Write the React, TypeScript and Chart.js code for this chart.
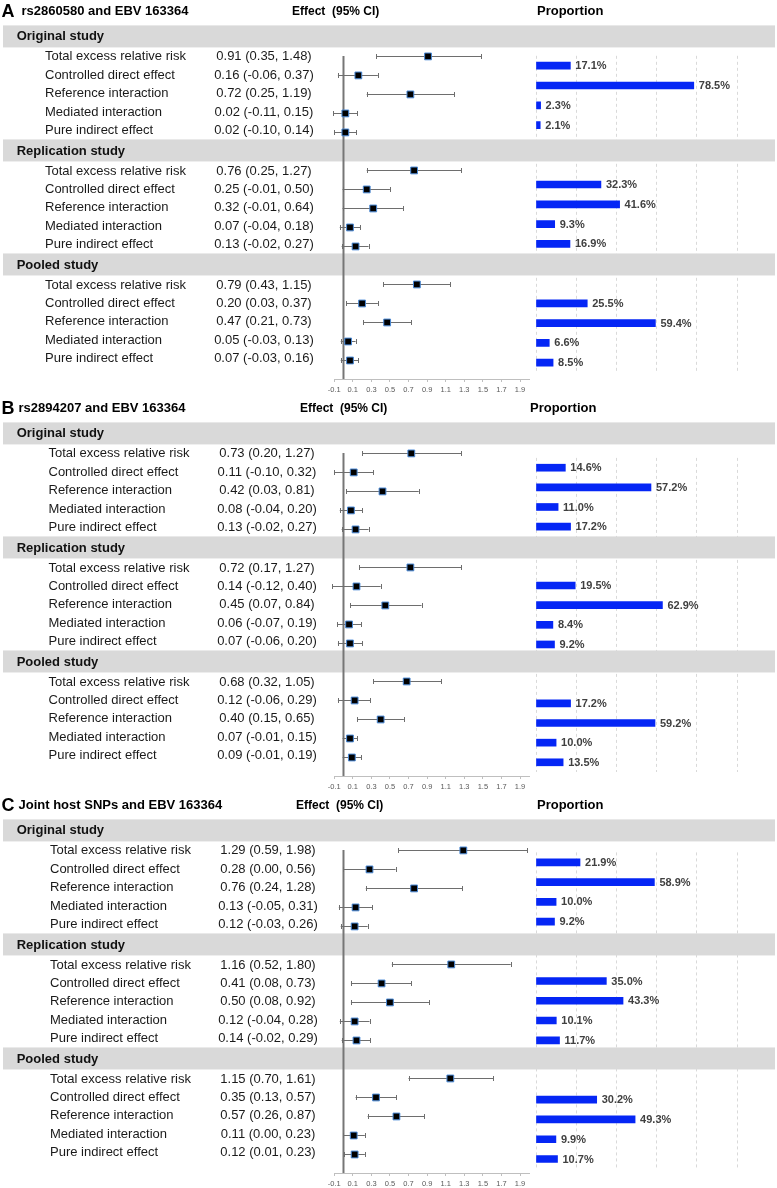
import React, { useEffect, useRef } from 'react';
import { Chart, registerables } from 'chart.js';

Chart.register(...registerables);

const FONT = '"Liberation Sans", Arial, Helvetica, sans-serif';

// ---------- text / categories ----------
const PANEL_LETTERS = ['A', 'B', 'C'];
const PANEL_TITLES = [
  'rs2860580 and EBV 163364',
  'rs2894207 and EBV 163364',
  'Joint host SNPs and EBV 163364',
];
const STUDIES = ['Original study', 'Replication study', 'Pooled study'];
const EFFECTS = [
  'Total excess relative risk',
  'Controlled direct effect',
  'Reference interaction',
  'Mediated interaction',
  'Pure indirect effect',
];
const FOREST_TICKS = [-0.1, 0.1, 0.3, 0.5, 0.7, 0.9, 1.1, 1.3, 1.5, 1.7, 1.9];
const PROPORTION_GRID = [0, 20, 40, 60, 80, 100];

// ---------- panel A ----------
const EST_A = [[0.91, 0.16, 0.72, 0.02, 0.02], [0.76, 0.25, 0.32, 0.07, 0.13], [0.79, 0.2, 0.47, 0.05, 0.07]];
const LO_A = [[0.35, -0.06, 0.25, -0.11, -0.1], [0.25, -0.01, -0.01, -0.04, -0.02], [0.43, 0.03, 0.21, -0.03, -0.03]];
const HI_A = [[1.48, 0.37, 1.19, 0.15, 0.14], [1.27, 0.5, 0.64, 0.18, 0.27], [1.15, 0.37, 0.73, 0.13, 0.16]];
const PROP_A = [[17.1, 78.5, 2.3, 2.1], [32.3, 41.6, 9.3, 16.9], [25.5, 59.4, 6.6, 8.5]];

// ---------- panel B ----------
const EST_B = [[0.73, 0.11, 0.42, 0.08, 0.13], [0.72, 0.14, 0.45, 0.06, 0.07], [0.68, 0.12, 0.4, 0.07, 0.09]];
const LO_B = [[0.2, -0.1, 0.03, -0.04, -0.02], [0.17, -0.12, 0.07, -0.07, -0.06], [0.32, -0.06, 0.15, -0.01, -0.01]];
const HI_B = [[1.27, 0.32, 0.81, 0.2, 0.27], [1.27, 0.4, 0.84, 0.19, 0.2], [1.05, 0.29, 0.65, 0.15, 0.19]];
const PROP_B = [[14.6, 57.2, 11.0, 17.2], [19.5, 62.9, 8.4, 9.2], [17.2, 59.2, 10.0, 13.5]];

// ---------- panel C ----------
const EST_C = [[1.29, 0.28, 0.76, 0.13, 0.12], [1.16, 0.41, 0.5, 0.12, 0.14], [1.15, 0.35, 0.57, 0.11, 0.12]];
const LO_C = [[0.59, 0.0, 0.24, -0.05, -0.03], [0.52, 0.08, 0.08, -0.04, -0.02], [0.7, 0.13, 0.26, 0.0, 0.01]];
const HI_C = [[1.98, 0.56, 1.28, 0.31, 0.26], [1.8, 0.73, 0.92, 0.28, 0.29], [1.61, 0.57, 0.87, 0.23, 0.23]];
const PROP_C = [[21.9, 58.9, 10.0, 9.2], [35.0, 43.3, 10.1, 11.7], [30.2, 49.3, 9.9, 10.7]];

const PANELS = [
  { est: EST_A, lo: LO_A, hi: HI_A, prop: PROP_A },
  { est: EST_B, lo: LO_B, hi: HI_B, prop: PROP_B },
  { est: EST_C, lo: LO_C, hi: HI_C, prop: PROP_C },
];

// ---------- layout (pixels) ----------
const W = 777;
const H = 394;
const PANEL_TOP = [0, 397, 794];
const SLOTS_PER_STUDY = 6;
const FOREST_LEFT = 334.2;
const FOREST_RIGHT = 529.3;
const AXIS_Y = 379;
const FOREST_SLOT0_Y = 32.1;
const FOREST_SLOT17_Y = 360.2;
const BAR_SLOT_Y = [[65.7, 362.7], [70.7, 365.3], [68.3, 365.0]];
const PROP_LEFT = 536;
const PROP_RIGHT = 737;
const TITLE_X = [21.5, 18.5, 18.5];
const EFFECT_HEAD_X = [292, 300, 296];
const PROP_HEAD_X = [537, 530, 537];
const LABEL_X = [45, 48.5, 50];
const VALUE_CX = [264, 267, 268];

const BAND_COLOR = '#d9d9d9';
const BAR_COLOR = '#0526f5';

const slotOf = (g: number, i: number) => g * SLOTS_PER_STUDY + 1 + i;
const fmt2 = (v: number) => v.toFixed(2);

function forestDecor(p: number) {
  const d = PANELS[p];
  return {
    id: 'forestDecor' + p,
    beforeDraw(chart: any) {
      const ctx = chart.ctx;
      const y = chart.scales.y;
      ctx.save();
      ctx.fillStyle = BAND_COLOR;
      STUDIES.forEach((_, g) => {
        const cy = y.getPixelForValue(g * SLOTS_PER_STUDY) - 1;
        ctx.fillRect(3, cy - 11, 772, 22);
      });
      ctx.restore();
    },
    beforeDatasetsDraw(chart: any) {
      const ctx = chart.ctx;
      const { x, y } = chart.scales;
      ctx.save();
      const x0 = x.getPixelForValue(0);
      ctx.strokeStyle = '#767676';
      ctx.lineWidth = 2;
      ctx.beginPath();
      ctx.moveTo(x0, y.getPixelForValue(1) - 0.5);
      ctx.lineTo(x0, chart.chartArea.bottom);
      ctx.stroke();
      ctx.strokeStyle = '#6e6e6e';
      ctx.lineWidth = 1;
      d.est.forEach((row, g) =>
        row.forEach((_, i) => {
          const yy = Math.round(y.getPixelForValue(slotOf(g, i))) + 0.5;
          const xl = x.getPixelForValue(d.lo[g][i]);
          const xh = x.getPixelForValue(d.hi[g][i]);
          ctx.beginPath();
          ctx.moveTo(xl, yy);
          ctx.lineTo(xh, yy);
          ctx.moveTo(Math.round(xl) + 0.5, yy - 2.5);
          ctx.lineTo(Math.round(xl) + 0.5, yy + 2.5);
          ctx.moveTo(Math.round(xh) + 0.5, yy - 2.5);
          ctx.lineTo(Math.round(xh) + 0.5, yy + 2.5);
          ctx.stroke();
        })
      );
      ctx.restore();
    },
    afterDraw(chart: any) {
      const ctx = chart.ctx;
      const y = chart.scales.y;
      ctx.save();
      ctx.fillStyle = '#000';
      ctx.textBaseline = 'alphabetic';
      ctx.textAlign = 'left';
      ctx.font = `bold 18px ${FONT}`;
      ctx.fillText(PANEL_LETTERS[p], 1.5, 16.5);
      ctx.font = `bold 13px ${FONT}`;
      ctx.fillText(PANEL_TITLES[p], TITLE_X[p], 14.5);
      ctx.fillText('Proportion', PROP_HEAD_X[p], 14.5);
      ctx.font = `bold 12px ${FONT}`;
      ctx.fillText('Effect  (95% CI)', EFFECT_HEAD_X[p], 14.5);

      ctx.textBaseline = 'middle';
      STUDIES.forEach((s, g) => {
        const cy = y.getPixelForValue(g * SLOTS_PER_STUDY) - 0.5;
        ctx.font = `bold 13px ${FONT}`;
        ctx.fillStyle = '#111';
        ctx.textAlign = 'left';
        ctx.fillText(s, 16.7, cy);
        EFFECTS.forEach((e, i) => {
          const ty = y.getPixelForValue(slotOf(g, i)) - 0.6 * i + 0.5;
          ctx.font = `13px ${FONT}`;
          ctx.fillStyle = '#1a1a1a';
          ctx.textAlign = 'left';
          ctx.fillText(e, LABEL_X[p], ty);
          ctx.textAlign = 'center';
          ctx.fillText(
            `${fmt2(d.est[g][i])} (${fmt2(d.lo[g][i])}, ${fmt2(d.hi[g][i])})`,
            VALUE_CX[p],
            ty
          );
        });
      });
      ctx.restore();
    },
  };
}

function propLabels(p: number, values: number[]) {
  return {
    id: 'propLabels' + p,
    afterDatasetsDraw(chart: any) {
      const ctx = chart.ctx;
      const meta = chart.getDatasetMeta(0);
      ctx.save();
      ctx.font = `bold 11px ${FONT}`;
      ctx.fillStyle = '#404040';
      ctx.textBaseline = 'middle';
      ctx.textAlign = 'left';
      meta.data.forEach((el: any, k: number) => {
        ctx.fillText(`${values[k].toFixed(1)}%`, el.x + 5, el.y + 0.5);
      });
      ctx.restore();
    },
  };
}

export default function App() {
  const propRefs = useRef<(HTMLCanvasElement | null)[]>([]);
  const forestRefs = useRef<(HTMLCanvasElement | null)[]>([]);

  useEffect(() => {
    const charts: Chart[] = [];
    PANELS.forEach((d, p) => {
      // ---- proportion bars ----
      const [b2, b17] = BAR_SLOT_Y[p];
      const bPitch = (b17 - b2) / 15;
      const barTop = b2 - 0.5 * bPitch;
      const barBottom = b17 + 0.5 * bPitch;
      const barPoints: { x: number; y: number }[] = [];
      const barValues: number[] = [];
      d.prop.forEach((row, g) =>
        row.forEach((v, j) => {
          barPoints.push({ x: v, y: slotOf(g, j + 1) });
          barValues.push(v);
        })
      );
      const pc = propRefs.current[p];
      if (pc) {
        charts.push(
          new Chart(pc, {
            type: 'bar',
            data: {
              datasets: [
                {
                  data: barPoints as any,
                  backgroundColor: BAR_COLOR,
                  borderWidth: 0,
                  barThickness: 7,
                } as any,
              ],
            },
            options: {
              indexAxis: 'y',
              responsive: false,
              animation: false,
              devicePixelRatio: 1,
              layout: {
                padding: { left: PROP_LEFT, right: W - PROP_RIGHT, top: barTop, bottom: H - barBottom },
              },
              plugins: { legend: { display: false }, tooltip: { enabled: false } },
              scales: {
                x: {
                  type: 'linear',
                  min: 0,
                  max: 100,
                  bounds: 'data',
                  offset: false,
                  afterBuildTicks: (s: any) => {
                    s.ticks = PROPORTION_GRID.map((v) => ({ value: v }));
                  },
                  afterFit: (s: any) => {
                    s.height = 0;
                  },
                  ticks: { display: false },
                  grid: { color: '#d9d9d9', lineWidth: 1, drawTicks: false, offset: false },
                  border: { display: false, dash: [3, 3] },
                } as any,
                y: {
                  type: 'linear',
                  reverse: true,
                  min: 1.5,
                  max: 17.5,
                  bounds: 'data',
                  offset: false,
                  display: false,
                  grid: { offset: false },
                } as any,
              },
            } as any,
            plugins: [propLabels(p, barValues)],
          })
        );
      }

      // ---- forest plot ----
      const fPitch = (FOREST_SLOT17_Y - FOREST_SLOT0_Y) / 17;
      const yMin = -FOREST_SLOT0_Y / fPitch;
      const yMax = yMin + AXIS_Y / fPitch;
      const points: { x: number; y: number }[] = [];
      d.est.forEach((row, g) => row.forEach((v, i) => points.push({ x: v, y: slotOf(g, i) })));
      const fc = forestRefs.current[p];
      if (fc) {
        charts.push(
          new Chart(fc, {
            type: 'scatter',
            data: {
              datasets: [
                {
                  data: points,
                  pointStyle: 'rect',
                  pointRadius: 4.8,
                  pointBackgroundColor: '#000',
                  pointBorderColor: '#4a8ad8',
                  pointBorderWidth: 1,
                  showLine: false,
                } as any,
              ],
            },
            options: {
              responsive: false,
              animation: false,
              devicePixelRatio: 1,
              layout: {
                padding: { left: FOREST_LEFT, right: W - FOREST_RIGHT, top: 0, bottom: H - AXIS_Y - 14 },
              },
              plugins: { legend: { display: false }, tooltip: { enabled: false } },
              scales: {
                x: {
                  type: 'linear',
                  min: -0.1,
                  max: 2.0,
                  bounds: 'data',
                  offset: false,
                  afterBuildTicks: (s: any) => {
                    s.ticks = FOREST_TICKS.map((v) => ({ value: v }));
                  },
                  afterFit: (s: any) => {
                    s.height = 14;
                  },
                  ticks: {
                    autoSkip: false,
                    maxRotation: 0,
                    padding: 3,
                    color: '#595959',
                    font: { family: FONT, size: 7.5 },
                    callback: (v: any) => Number(v).toFixed(1),
                  },
                  grid: {
                    display: true,
                    drawOnChartArea: false,
                    drawTicks: true,
                    tickLength: 3,
                    color: '#bfbfbf',
                  },
                  border: { display: true, color: '#bfbfbf' },
                } as any,
                y: {
                  type: 'linear',
                  reverse: true,
                  min: yMin,
                  max: yMax,
                  bounds: 'data',
                  offset: false,
                  display: false,
                } as any,
              },
            } as any,
            plugins: [forestDecor(p)],
          })
        );
      }
    });
    return () => charts.forEach((c) => c.destroy());
  }, []);

  return (
    <div
      style={{
        position: 'absolute',
        left: 0,
        top: 0,
        width: W,
        height: 1188,
        background: '#fff',
        overflow: 'hidden',
      }}
    >
      {PANELS.map((_, p) => (
        <React.Fragment key={p}>
          <canvas
            ref={(el) => {
              propRefs.current[p] = el;
            }}
            width={W}
            height={H}
            style={{ position: 'absolute', left: 0, top: PANEL_TOP[p], width: W, height: H }}
          />
          <canvas
            ref={(el) => {
              forestRefs.current[p] = el;
            }}
            width={W}
            height={H}
            style={{ position: 'absolute', left: 0, top: PANEL_TOP[p], width: W, height: H }}
          />
        </React.Fragment>
      ))}
    </div>
  );
}
